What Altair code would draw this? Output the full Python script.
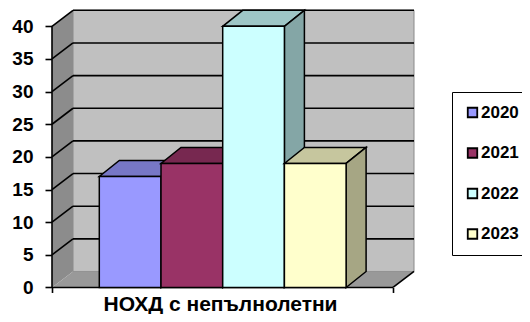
import altair as alt
import pandas as pd

# ---- data ----
years = ["2020", "2021", "2022", "2023"]
values = [17, 19, 40, 19]
y_ticks = [0, 5, 10, 15, 20, 25, 30, 35, 40]
x_title = "НОХД с непълнолетни"

# ---- styles ----
front_colors = ["#9999ff", "#993366", "#ccffff", "#ffffcc"]
top_colors = ["#7777c6", "#772850", "#9ec6c6", "#c6c69e"]
side_colors = ["#6363a5", "#642142", "#84a6a6", "#a6a684"]
FONT = "Liberation Sans"

# ---- layout constants (x in px of plot, y in value units) ----
W, H = 370, 284
Y_MIN, Y_MAX = -1, 42.5
PXU = H / (Y_MAX - Y_MIN)
DX = 21                 # wall depth (px)
DY = 16 / PXU           # wall depth (value units)
BDX = 20                # bar depth (px)
BAR_X0 = 47.3
BAR_W = 61.7
FLOOR_R = 341
WALL_R = FLOOR_R + DX
TOP = y_ticks[-1]

xs = alt.Scale(domain=[0, W], nice=False, zero=False)
ys = alt.Scale(domain=[Y_MIN, Y_MAX], nice=False, zero=False)

x_axis = alt.Axis(values=[0, FLOOR_R], labels=False, domain=False, grid=False,
                  ticks=True, tickSize=5, tickWidth=1.6, tickColor="black",
                  offset=-(-Y_MIN * PXU), title=x_title, titleFont=FONT,
                  titleFontSize=21, titleFontWeight="bold", titleColor="black",
                  titleX=168, titleY=23, titleBaseline="alphabetic",
                  titleAlign="center", titleAnchor="start")
y_axis = alt.Axis(values=y_ticks, domain=False, grid=False, tickSize=7,
                  tickWidth=1.6, tickColor="black", labelPadding=12,
                  labelFont=FONT, labelFontSize=19, labelFontWeight="bold",
                  labelColor="black", title=None)


def X(f, **kw):
    return alt.X(f, type="quantitative", scale=xs, axis=x_axis, title=x_title, **kw)


def Y(f, **kw):
    return alt.Y(f, type="quantitative", scale=ys, axis=y_axis, stack=None, title=None, **kw)


# walls and floor
left_wall = pd.DataFrame({"x": [0, DX], "y": [0, DY], "y2": [TOP, TOP + DY]})
back_wall = pd.DataFrame({"x": [DX], "x2": [WALL_R], "y": [DY], "y2": [TOP + DY]})
floor = pd.DataFrame({"x": [0, DX, FLOOR_R, WALL_R],
                      "y": [0, 0, 0, DY],
                      "y2": [0, DY, DY, DY]})

l_left = alt.Chart(left_wall).mark_area(color="#8c8c8c").encode(
    x=X("x"), y=Y("y"), y2="y2")
l_back = alt.Chart(back_wall).mark_rect(color="#c0c0c0", stroke="#8a8a8a", strokeWidth=1).encode(
    x=X("x"), x2="x2", y=Y("y"), y2="y2")
l_floor = alt.Chart(floor).mark_area(color="#999999").encode(
    x=X("x"), y=Y("y"), y2="y2")

# gridlines
grid = pd.DataFrame({"v": y_ticks[1:]})
grid["vb"] = grid["v"] + DY
grid["xa"] = 0
grid["xb"] = DX
grid["xr"] = WALL_R
l_grid_back = alt.Chart(grid).mark_rule(color="black", strokeWidth=1.6).encode(
    x=X("xb"), x2="xr", y=Y("vb"))
l_grid_diag = alt.Chart(grid).mark_rule(color="black", strokeWidth=1.6).encode(
    x=X("xa"), x2="xb", y=Y("v"), y2="vb")

# front axis lines
edges = pd.DataFrame({"x": [0, 0, FLOOR_R], "x2": [0, FLOOR_R, WALL_R],
                      "y": [0, 0, 0], "y2": [TOP, 0, DY]})
l_edges = alt.Chart(edges).mark_rule(color="black", strokeWidth=1.6).encode(
    x=X("x"), x2="x2", y=Y("y"), y2="y2")

# bars
bars = pd.DataFrame({"year": years, "value": values})
bars["x0"] = [BAR_X0 + i * BAR_W for i in range(len(years))]
bars["x1"] = bars["x0"] + BAR_W
bars["base"] = 0

face_rows = []
for i, (yr, v) in enumerate(zip(years, values)):
    x0 = BAR_X0 + i * BAR_W
    x1 = x0 + BAR_W
    for x, a, b in [(x0, v, v), (x0 + BDX, v, v + DY), (x1, v, v + DY), (x1 + BDX, v + DY, v + DY)]:
        face_rows.append({"year": yr, "face": "top", "x": x, "y": a, "y2": b, "fill": top_colors[i]})
    for x, a, b in [(x1, 0, v), (x1 + BDX, DY, v + DY)]:
        face_rows.append({"year": yr, "face": "side", "x": x, "y": a, "y2": b, "fill": side_colors[i]})
faces = pd.DataFrame(face_rows)

color_scale = alt.Scale(domain=years, range=front_colors)
legend = alt.Legend(orient="none", legendX=400, legendY=82, title=None,
                    symbolType="square", symbolSize=90, symbolStrokeColor="black",
                    symbolStrokeWidth=1.8, labelFont=FONT, labelFontSize=17,
                    labelFontWeight="bold", labelColor="black", rowPadding=22.5,
                    padding=12, strokeColor="black", fillColor="white",
                    symbolOffset=0, labelOffset=0)

bar_layers = []
for yr in years:
    bar_layers.append(
        alt.Chart(faces).transform_filter(alt.datum.year == yr).mark_area(
            stroke="black", strokeWidth=1.5).encode(
            x=X("x"), y=Y("y"), y2="y2", detail="face:N",
            fill=alt.Fill("fill:N", scale=None)))
    bar_layers.append(
        alt.Chart(bars).transform_filter(alt.datum.year == yr).mark_rect(
            stroke="black", strokeWidth=1.5).encode(
            x=X("x0"), x2="x1", y=Y("base"), y2="value",
            color=alt.Color("year:N", scale=color_scale, legend=legend)))

chart = alt.layer(
    l_back, l_left, l_floor, l_grid_back, l_grid_diag, l_edges, *bar_layers
).properties(
    width=W, height=H, autosize="none",
    padding={"left": 44, "top": 2, "right": 100, "bottom": 20},
    background="white",
).configure_view(stroke=None)

chart.save("out.html", embed_options={"renderer": "svg", "actions": False})
